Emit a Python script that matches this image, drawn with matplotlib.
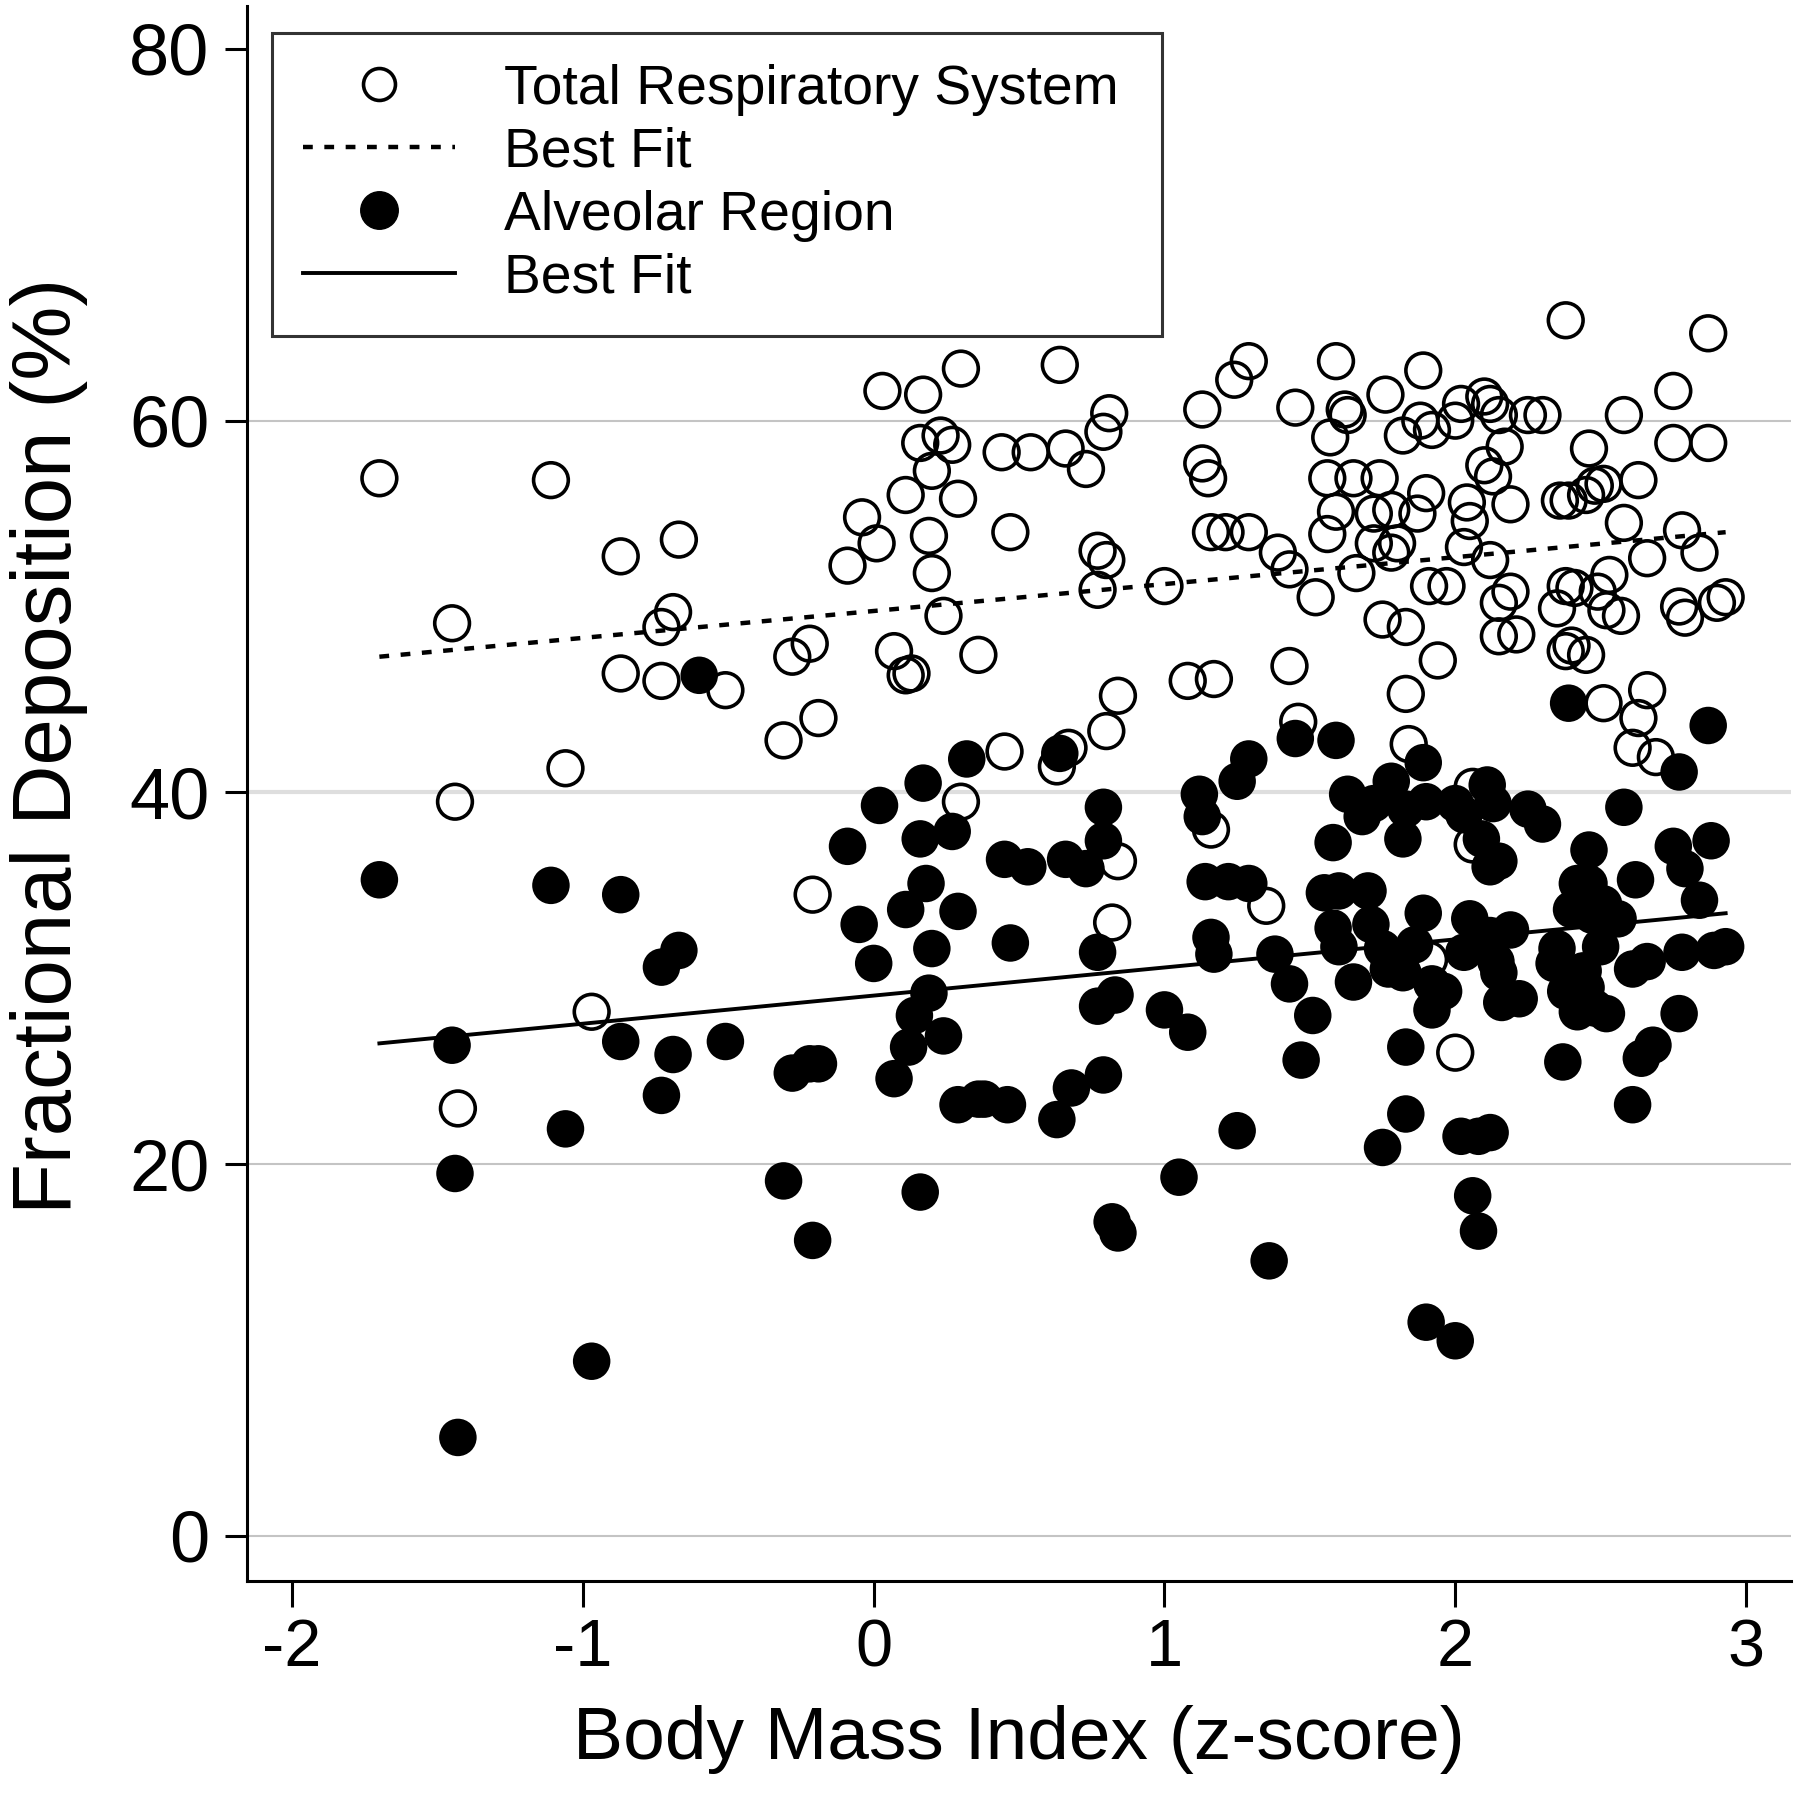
import numpy as np
import matplotlib.pyplot as plt
from matplotlib.lines import Line2D

plt.rcParams["font.family"] = ["Liberation Sans", "DejaVu Sans"]

# Total respiratory system deposition (open circles)
total_bmi = [
    -1.70, -1.45, -1.11, -1.44, -1.06, -0.97, -1.43, -0.87, -0.87, -0.67,
    -0.69, -0.73, -0.73, -0.51, -0.31, -0.28, -0.22, -0.19, -0.21, 0.03,
    -0.04, 0.01, -0.09, 0.30, 0.17, 0.23, 0.16, 0.27, 0.11, 0.20,
    0.29, 0.19, 0.20, 0.24, 0.07, 0.13, 0.11, 0.36, 0.44, 0.54,
    0.47, 0.45, 0.64, 0.66, 0.73, 0.81, 0.79, 0.77, 0.80, 0.77,
    0.84, 0.80, 0.67, 0.63, 0.30, 0.84, 0.82, 1.00, 1.08, 1.17,
    1.16, 1.13, 1.13, 1.15, 1.16, 1.21, 1.24, 1.29, 1.29, 1.39,
    1.43, 1.45, 1.43, 1.52, 1.46, 1.35, 1.59, 1.57, 1.56, 1.59,
    1.56, 1.62, 1.63, 1.65, 1.66, 1.72, 1.74, 1.72, 1.78, 1.75,
    1.76, 1.82, 1.78, 1.83, 1.80, 1.83, 1.84, 1.89, 1.88, 1.92,
    1.90, 1.87, 1.91, 1.97, 1.94, 1.91, 2.00, 2.00, 2.02, 2.04,
    2.05, 2.03, 2.10, 2.12, 2.15, 2.10, 2.13, 2.17, 2.19, 2.12,
    2.15, 2.19, 2.15, 2.21, 2.25, 2.30, 2.06, 2.06, 2.38, 2.36,
    2.39, 2.35, 2.38, 2.41, 2.38, 2.40, 2.45, 2.46, 2.45, 2.48,
    2.51, 2.49, 2.52, 2.57, 2.53, 2.51, 2.58, 2.58, 2.63, 2.66,
    2.66, 2.63, 2.61, 2.69, 2.75, 2.75, 2.78, 2.77, 2.79, 2.84,
    2.87, 2.87, 2.90, 2.93,
]
total_dep = [
    56.9, 49.1, 56.8, 39.5, 41.3, 28.2, 23.0, 52.7, 46.4, 53.6,
    49.7, 48.9, 46.0, 45.5, 42.8, 47.3, 48.0, 44.0, 34.5, 61.6,
    54.8, 53.4, 52.2, 62.8, 61.4, 59.2, 58.8, 58.7, 56.0, 57.3,
    55.8, 53.8, 51.8, 49.5, 47.6, 46.4, 46.3, 47.4, 58.3, 58.3,
    54.0, 42.2, 63.0, 58.5, 57.4, 60.4, 59.4, 53.0, 52.5, 50.9,
    45.2, 43.3, 42.4, 41.4, 39.5, 36.3, 33.0, 51.1, 46.0, 46.1,
    38.0, 60.6, 57.7, 56.9, 54.0, 54.0, 62.2, 63.2, 54.0, 52.9,
    52.0, 60.7, 46.8, 50.5, 43.8, 33.9, 63.2, 59.1, 56.9, 55.1,
    53.9, 60.6, 60.3, 56.9, 51.8, 53.4, 56.9, 55.0, 55.2, 49.3,
    61.4, 59.2, 52.9, 48.9, 53.4, 45.3, 42.6, 62.7, 60.0, 59.5,
    56.1, 55.0, 51.1, 51.1, 47.1, 31.0, 26.0, 60.0, 60.9, 55.6,
    54.6, 53.2, 61.3, 60.9, 60.3, 57.6, 57.0, 58.6, 55.5, 52.5,
    50.2, 50.8, 48.4, 48.5, 60.3, 60.3, 40.3, 37.2, 65.4, 55.7,
    55.7, 49.9, 51.1, 51.0, 47.6, 47.9, 47.4, 58.5, 56.0, 56.5,
    56.6, 50.8, 49.8, 49.5, 51.7, 44.8, 60.3, 54.5, 56.8, 52.6,
    45.5, 44.0, 42.4, 41.9, 61.6, 58.8, 54.1, 50.0, 49.4, 52.9,
    64.7, 58.8, 50.2, 50.5,
]

# Alveolar region deposition (filled circles)
alv_bmi = [
    -1.70, -1.45, -1.44, -1.43, -1.11, -1.06, -0.97, -0.87, -0.87, -0.73,
    -0.67, -0.69, -0.73, -0.60, -0.51, -0.31, -0.28, -0.22, -0.19, -0.21,
    -0.09, -0.05, 0.00, 0.02, 0.07, 0.11, 0.12, 0.14, 0.17, 0.16,
    0.18, 0.20, 0.19, 0.16, 0.24, 0.27, 0.29, 0.32, 0.29, 0.36,
    0.38, 0.45, 0.53, 0.47, 0.46, 0.64, 0.66, 0.73, 0.63, 0.68,
    0.79, 0.79, 0.77, 0.77, 0.79, 0.83, 0.82, 0.84, 1.00, 1.08,
    1.05, 1.12, 1.13, 1.14, 1.16, 1.17, 1.25, 1.29, 1.22, 1.29,
    1.25, 1.36, 1.38, 1.43, 1.45, 1.47, 1.51, 1.59, 1.58, 1.55,
    1.60, 1.58, 1.60, 1.65, 1.63, 1.68, 1.70, 1.71, 1.72, 1.75,
    1.77, 1.78, 1.83, 1.75, 1.83, 1.83, 1.82, 1.82, 1.89, 1.90,
    1.89, 1.92, 1.86, 1.92, 1.90, 2.00, 1.96, 2.00, 2.03, 2.05,
    2.03, 2.02, 2.08, 2.12, 2.06, 2.08, 2.11, 2.13, 2.09, 2.12,
    2.15, 2.12, 2.14, 2.15, 2.16, 2.19, 2.22, 2.25, 2.30, 2.35,
    2.37, 2.39, 2.40, 2.44, 2.46, 2.42, 2.47, 2.50, 2.45, 2.48,
    2.52, 2.46, 2.51, 2.56, 2.58, 2.61, 2.62, 2.61, 2.64, 2.68,
    2.66, 2.77, 2.75, 2.79, 2.78, 2.77, 2.84, 2.87, 2.88, 2.89,
    2.93, 2.34, 2.38, 2.42,
]
alv_dep = [
    35.3, 26.4, 19.5, 5.3, 35.0, 21.9, 9.4, 34.5, 26.6, 30.6,
    31.5, 25.9, 23.7, 46.3, 26.6, 19.1, 24.9, 25.4, 25.4, 15.9,
    37.1, 32.9, 30.8, 39.3, 24.6, 33.7, 26.3, 28.0, 40.5, 37.5,
    35.1, 31.6, 29.2, 18.5, 26.9, 37.9, 33.6, 41.8, 23.2, 23.5,
    23.5, 36.4, 36.0, 31.9, 23.2, 42.1, 36.4, 35.9, 22.4, 24.1,
    39.2, 37.4, 31.4, 28.5, 24.8, 29.1, 16.9, 16.3, 28.3, 27.1,
    19.3, 39.9, 38.7, 35.2, 32.2, 31.3, 40.6, 41.8, 35.2, 35.1,
    21.8, 14.8, 31.3, 29.7, 42.9, 25.6, 28.0, 42.8, 37.3, 34.6,
    34.7, 32.7, 31.7, 29.8, 39.9, 38.7, 34.7, 32.9, 39.4, 31.6,
    30.5, 40.6, 39.1, 20.9, 26.3, 22.7, 37.5, 30.3, 41.6, 39.5,
    33.5, 29.7, 31.8, 28.3, 11.5, 10.5, 29.3, 39.4, 38.8, 33.2,
    31.4, 21.5, 21.5, 21.7, 18.3, 16.4, 40.4, 39.4, 37.5, 36.0,
    36.3, 32.3, 30.9, 30.3, 28.7, 32.6, 28.9, 39.1, 38.3, 31.6,
    25.5, 44.8, 33.7, 30.4, 36.9, 35.1, 33.4, 31.7, 29.5, 28.4,
    28.1, 35.1, 34.0, 33.2, 39.2, 30.5, 35.3, 23.2, 25.7, 26.4,
    30.9, 41.1, 37.1, 35.9, 31.4, 28.1, 34.2, 43.6, 37.4, 31.5,
    31.7, 30.8, 29.3, 28.2,
]

# best fit lines (intercept, slope)
total_fit = [49.76, 1.447]
alv_fit = [29.07, 1.512]

x_ticks = [-2, -1, 0, 1, 2, 3]
y_ticks = [0, 20, 40, 60, 80]

fig = plt.figure(figsize=(17.97, 18.0), dpi=100)
ax = fig.add_axes([0.1375, 0.1217, 0.9967 - 0.1375, 0.9967 - 0.1217])

ax.scatter(total_bmi, total_dep, s=25 ** 2, facecolors="none", edgecolors="black",
           linewidths=2.6, zorder=3)
ax.scatter(alv_bmi, alv_dep, s=27 ** 2, c="black", edgecolors="none", zorder=4)

xs = np.array([min(total_bmi), max(total_bmi)])
ax.plot(xs, total_fit[0] + total_fit[1] * xs, color="black", lw=3.2,
        linestyle=(0, (2.2, 2.6)), zorder=5)
xs = np.array([min(alv_bmi), max(alv_bmi)])
ax.plot(xs, alv_fit[0] + alv_fit[1] * xs, color="black", lw=2.8, zorder=5)

ax.set_xlim(-2.155, 3.155)
ax.set_ylim(-2.42, 82.31)
ax.set_xticks(x_ticks)
ax.set_yticks(y_ticks)
ax.set_xticklabels([str(t) for t in x_ticks])

ax.spines[["top", "right"]].set_visible(False)
ax.spines[["left", "bottom"]].set_linewidth(2.2)
ax.tick_params(axis="x", direction="out", length=19, width=2.2, labelsize=48, pad=8)
ax.tick_params(axis="y", direction="out", length=16, width=2.2, labelsize=52, pad=11)

ax.yaxis.grid(True, color="#c4c4c4", lw=1.5)
ax.set_axisbelow(True)
grid_lines = ax.get_ygridlines()
grid_lines[2].set_color("#dedede")
grid_lines[2].set_linewidth(3)
grid_lines[4].set_visible(False)

ax.set_xlabel("Body Mass Index (z-score)", fontsize=54, labelpad=18)
ax.set_ylabel("Fractional Deposition (%)", fontsize=60)
ax.yaxis.set_label_coords(-0.103, 0.53)

handles = [
    Line2D([], [], marker="o", ls="none", ms=23, mfc="none", mec="black", mew=2.6),
    Line2D([], [], color="black", lw=3.2, linestyle=(0, (2.2, 2.6))),
    Line2D([], [], marker="o", ls="none", ms=27, mfc="black", mec="black"),
    Line2D([], [], color="black", lw=2.8),
]
labels = ["Total Respiratory System", "Best Fit", "Alveolar Region", "Best Fit"]
leg = ax.legend(handles, labels, loc="upper left",
                bbox_to_anchor=(0.0164, 0.5, 0.576, 0.483), mode="expand",
                fontsize=39.8, frameon=True, fancybox=False, handlelength=2.75,
                handletextpad=0.88, labelspacing=0.2, borderpad=0.56,
                borderaxespad=0)
leg.get_frame().set_edgecolor("black")
leg.get_frame().set_linewidth(2.2)

fig.savefig("out.png", dpi=100, facecolor="white")
